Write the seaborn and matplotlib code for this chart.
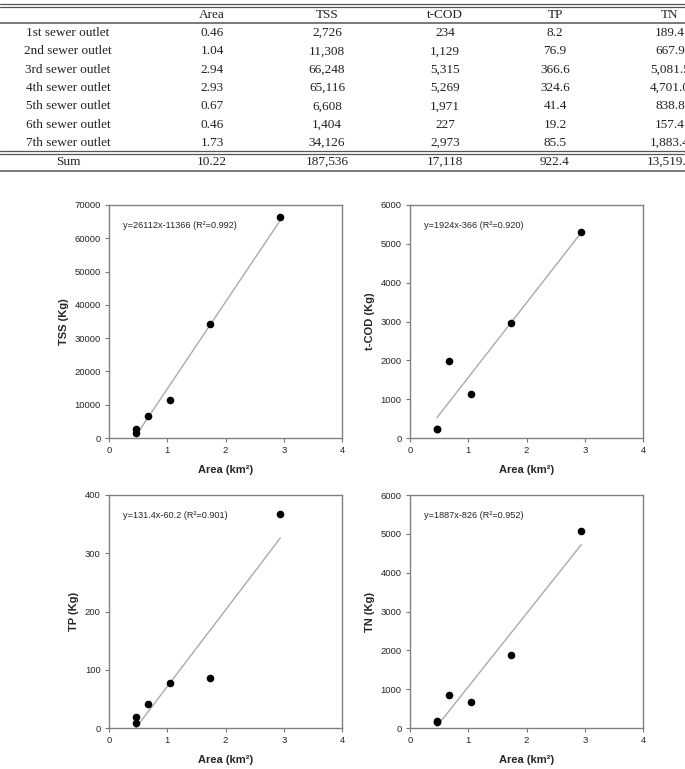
import matplotlib
matplotlib.use("Agg")
import matplotlib.pyplot as plt
import seaborn as sns
import pandas as pd
from matplotlib.lines import Line2D

# table data
outlets = ["1st sewer outlet", "2nd sewer outlet", "3rd sewer outlet", "4th sewer outlet",
           "5th sewer outlet", "6th sewer outlet", "7th sewer outlet"]
area = [0.46, 1.04, 2.94, 2.93, 0.67, 0.46, 1.73]
tss = [2726, 11308, 66248, 65116, 6608, 1404, 34126]
tcod = [234, 1129, 5315, 5269, 1971, 227, 2973]
tp = [8.2, 76.9, 366.6, 324.6, 41.4, 19.2, 85.5]
tn = [189.4, 667.9, 5081.5, 4701.0, 838.8, 157.4, 1883.4]
header = ["", "Area", "TSS", "t-COD", "TP", "TN"]
sum_row = ["Sum", "10.22", "187,536", "17,118", "922.4", "13,519.4"]

# outlets used in the regressions (4th outlet left out)
plotted = [0, 1, 2, 4, 5, 6]
equations = ["y=26112x-11366 (R²=0.992)", "y=1924x-366 (R²=0.920)",
             "y=131.4x-60.2 (R²=0.901)", "y=1887x-826 (R²=0.952)"]

W, H = 685, 769
sns.set_style("ticks")
plt.rcParams["font.family"] = ["Liberation Sans", "DejaVu Sans"]

fig = plt.figure(figsize=(W / 100, H / 100), dpi=100)


def fx(px):
    return px / W


def fy(py):
    return 1 - py / H


# ---- table ----
col_x = [68, 212, 327, 445, 555, 670]
rows = [header]
for i in range(len(outlets)):
    rows.append([outlets[i], f"{area[i]:.2f}", f"{tss[i]:,}", f"{tcod[i]:,}",
                 f"{tp[i]:.1f}", f"{tn[i]:,.1f}"])
row_y = [15] + [33 + i * 18.33 for i in range(len(outlets))] + [162]
rows.append(sum_row)
for r, yy in zip(rows, row_y):
    for txt, xx in zip(r, col_x):
        fig.text(fx(xx), fy(yy), txt, ha="center", va="center", fontsize=9.5,
                 family="Liberation Serif", color="#222222")

for yy, lw in [(4, 0.9), (6.5, 0.9), (23, 1.1), (151, 0.9), (153.5, 0.9), (171, 1.1)]:
    fig.add_artist(Line2D([0, 1], [fy(yy), fy(yy)], color="#555555", lw=lw,
                          transform=fig.transFigure))

# ---- scatter plots ----
df = pd.DataFrame({"Area": area, "TSS": tss, "t-COD": tcod, "TP": tp, "TN": tn}).iloc[plotted]

panels = [
    ("TSS", "TSS (Kg)", 109, 205, 70000, 10000),
    ("t-COD", "t-COD (Kg)", 410, 205, 6000, 1000),
    ("TP", "TP (Kg)", 109, 495, 400, 100),
    ("TN", "TN (Kg)", 410, 495, 6000, 1000),
]
size = 233

for (col, ylab, left, top, ymax, ystep), eq in zip(panels, equations):
    ax = fig.add_axes([fx(left), fy(top + size), size / W, size / H])
    sns.regplot(data=df, x="Area", y=col, ax=ax, ci=None,
                scatter_kws={"color": "black", "s": 30, "alpha": 1, "linewidths": 0, "zorder": 3},
                line_kws={"color": "#aaaaaa", "lw": 1.0, "zorder": 2})
    ax.set_xlim(0, 4)
    ax.set_ylim(0, ymax)
    ax.set_xticks(range(0, 5))
    ax.set_yticks(range(0, ymax + 1, ystep))
    ax.tick_params(labelsize=6.8, length=3, width=0.8, color="#777777", pad=3)
    for s in ax.spines.values():
        s.set_color("#808080")
        s.set_linewidth(1.0)
    ax.set_xlabel("Area (km²)", fontsize=8, fontweight="bold", labelpad=7)
    ax.set_ylabel(ylab, fontsize=8, fontweight="bold", labelpad=4)
    ax.text(0.06, 0.91, eq, transform=ax.transAxes, fontsize=6.6, va="center", ha="left")

fig.savefig("out.png", dpi=100)
